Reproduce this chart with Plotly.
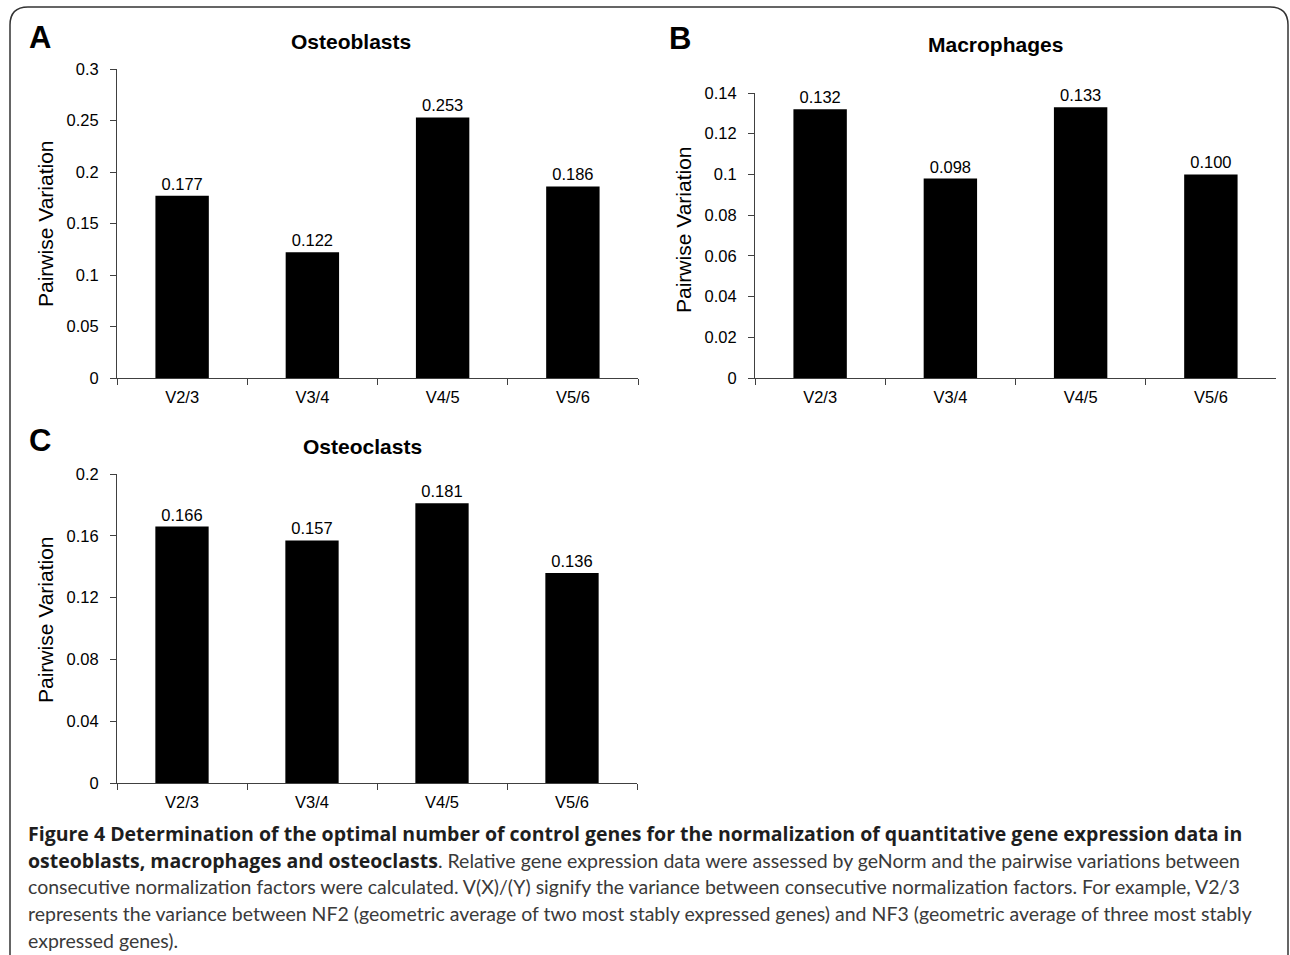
import plotly.graph_objects as go

W, H = 1290, 955

categories = ["V2/3", "V3/4", "V4/5", "V5/6"]
osteoblasts = [0.177, 0.122, 0.253, 0.186]
macrophages = [0.132, 0.098, 0.133, 0.100]
osteoclasts = [0.166, 0.157, 0.181, 0.136]

ticks_a = [0, 0.05, 0.1, 0.15, 0.2, 0.25, 0.3]
ticktext_a = ["0", "0.05", "0.1", "0.15", "0.2", "0.25", "0.3"]
ticks_b = [0, 0.02, 0.04, 0.06, 0.08, 0.1, 0.12, 0.14]
ticktext_b = ["0", "0.02", "0.04", "0.06", "0.08", "0.1", "0.12", "0.14"]
ticks_c = [0, 0.04, 0.08, 0.12, 0.16, 0.2]
ticktext_c = ["0", "0.04", "0.08", "0.12", "0.16", "0.2"]

FONT = "Liberation Sans, Arial, sans-serif"
CAP_FONT = "Lato, sans-serif"
BOLD_STYLE = "font-family:'Open Sans', sans-serif;color:#1e1e1e"


def px(x):
    return x / W


def py(y):
    return 1 - y / H


fig = go.Figure()

panels = [
    (osteoblasts, "x", "y", (117, 638), (69, 378), 0.3, ticks_a, ticktext_a, "Osteoblasts", (351, 42), (40, 37), (45, 224)),
    (macrophages, "x2", "y2", (755, 1276), (93, 378), 0.14, ticks_b, ticktext_b, "Macrophages", (995, 44), (680, 38), (683, 230)),
    (osteoclasts, "x3", "y3", (117, 637), (474, 783), 0.2, ticks_c, ticktext_c, "Osteoclasts", (362, 446), (40, 440), (45, 620)),
]
letters = ["A", "B", "C"]

annotations = []
for i, (vals, xa, ya, xr, yr, ymax, tv, tt, title, tpos, lpos, ypos) in enumerate(panels):
    fig.add_trace(go.Bar(
        x=categories, y=vals, xaxis=xa, yaxis=ya,
        marker=dict(color="black", line=dict(width=0)),
        width=0.41,
        text=[f"{v:.3f}" for v in vals], textposition="outside",
        textfont=dict(family=FONT, size=16.5, color="black"),
        cliponaxis=False, showlegend=False,
    ))
    xkey = "xaxis" if xa == "x" else "xaxis" + xa[1:]
    ykey = "yaxis" if ya == "y" else "yaxis" + ya[1:]
    fig.update_layout(**{
        xkey: dict(domain=[px(xr[0]), px(xr[1])], anchor=ya, type="category",
                   tickson="boundaries", ticks="outside", ticklen=6, tickcolor="#404040",
                   showline=True, linecolor="#404040", linewidth=1, showgrid=False,
                   ticklabelstandoff=4,
                   tickfont=dict(family=FONT, size=16.5, color="black"), fixedrange=True),
        ykey: dict(domain=[py(yr[1]), py(yr[0])], anchor=xa, range=[0, ymax],
                   tickvals=tv, ticktext=tt, ticks="outside", ticklen=6, tickcolor="#404040",
                   showline=True, linecolor="#404040", linewidth=1, showgrid=False,
                   ticklabelstandoff=8,
                   zeroline=False, tickfont=dict(family=FONT, size=16.5, color="black")),
    })
    annotations.append(dict(x=px(tpos[0]), y=py(tpos[1]), xref="paper", yref="paper",
                            xanchor="center", yanchor="middle",
                            text=f"<b>{title}</b>", showarrow=False,
                            font=dict(family=FONT, size=21, color="black")))
    annotations.append(dict(x=px(lpos[0]), y=py(lpos[1]), xref="paper", yref="paper",
                            xanchor="center", yanchor="middle",
                            text=f"<b>{letters[i]}</b>", showarrow=False,
                            font=dict(family=FONT, size=31, color="black")))
    annotations.append(dict(x=px(ypos[0]), y=py(ypos[1]), xref="paper", yref="paper",
                            xanchor="center", yanchor="middle",
                            text="Pairwise Variation", showarrow=False, textangle=-90,
                            font=dict(family=FONT, size=21, color="black")))

caption_lines = [
    "Figure 4 Determination of the optimal number of control genes for the normalization of quantitative gene expression data in",
    "osteoblasts, macrophages and osteoclasts|. Relative gene expression data were assessed by geNorm and the pairwise variations between",
    "consecutive normalization factors were calculated. V(X)/(Y) signify the variance between consecutive normalization factors. For example, V2/3",
    "represents the variance between NF2 (geometric average of two most stably expressed genes) and NF3 (geometric average of three most stably",
    "expressed genes).",
]
bold_parts = [True, True, False, False, False]
cap_y = [833, 860, 886, 913, 940]
for line, has_bold, yy in zip(caption_lines, bold_parts, cap_y):
    if has_bold:
        if "|" in line:
            b, rest = line.split("|", 1)
        else:
            b, rest = line, ""
        txt = f"<span style=\"{BOLD_STYLE}\"><b>{b}</b></span>{rest}"
    else:
        txt = line
    annotations.append(dict(x=px(26), y=py(yy), xref="paper", yref="paper",
                            xanchor="left", yanchor="middle", text=txt, showarrow=False,
                            font=dict(family=CAP_FONT, size=19.5, color="#3a3a3a")))

# rounded frame
r = 18
x0, y0, x1 = 10, 7, 1288
path = (f"M {px(x0)},{py(H + 5)} L {px(x0)},{py(y0 + r)} "
        f"Q {px(x0)},{py(y0)} {px(x0 + r)},{py(y0)} "
        f"L {px(x1 - r)},{py(y0)} Q {px(x1)},{py(y0)} {px(x1)},{py(y0 + r)} "
        f"L {px(x1)},{py(H + 5)}")

fig.update_layout(
    width=W, height=H, margin=dict(l=0, r=0, t=0, b=0, autoexpand=False),
    paper_bgcolor="white", plot_bgcolor="white",
    annotations=annotations,
    shapes=[dict(type="path", path=path, xref="paper", yref="paper",
                 line=dict(color="#333333", width=1.5))],
)

fig.write_html("out.html")
